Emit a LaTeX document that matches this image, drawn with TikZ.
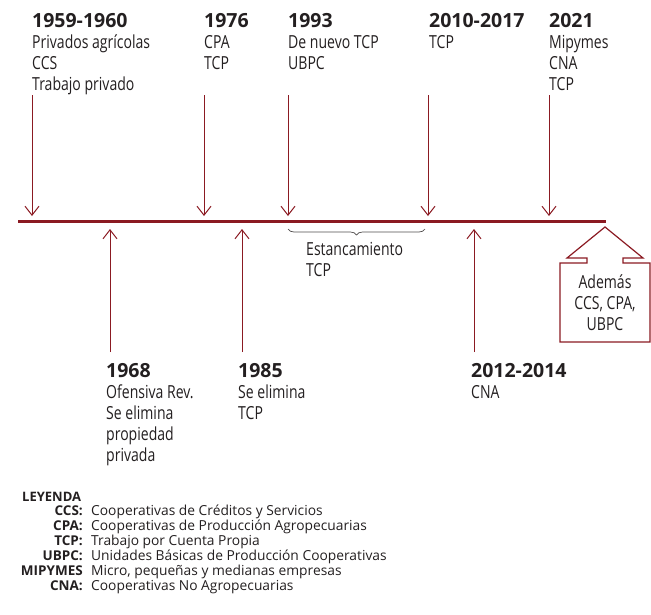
\documentclass[tikz,border=0pt]{standalone}
\usepackage{fontspec}
\setmainfont{Open Sans}[FakeStretch=0.78]
\newfontfamily\yearfont{Open Sans}
\usepackage{tikz}
\usetikzlibrary{arrows.meta,decorations.pathreplacing}
\definecolor{tlred}{RGB}{139,26,34}
\definecolor{ink}{RGB}{35,31,32}
\newcommand{\yr}[1]{{\yearfont\bfseries\fontsize{19.5}{21}\selectfont #1}}
\tikzset{lbl/.style={anchor=north west,inner sep=0,align=left,text=ink,font=\fontsize{18}{21}\selectfont},
  evt/.style={draw=tlred,line width=1pt,->},
  tline/.style={draw=tlred,line width=3pt},
  abbr/.style={anchor=base east,inner sep=0,text=ink,font=\yearfont\bfseries\fontsize{13.5}{15}\selectfont},
  desc/.style={anchor=base west,inner sep=0,text=ink,font=\yearfont\fontsize{13.8}{15}\selectfont}}

\begin{document}
\begin{tikzpicture}[x=1pt,y=-1pt,>={Straight Barb[length=9pt,width=14pt]}]
    \useasboundingbox (0,0) rectangle (651,614);

    % timeline
    \coordinate (ls) at (18,221);
    \coordinate (le) at (606,221);
    \draw[tline] (ls) -- (le);

    % above the line
    \node[lbl] (n59) at (32,13) {\yr{1959-1960}\\Privados agrícolas\\CCS\\Trabajo privado};
    \node[lbl] (n76) at (204,13) {\yr{1976}\\CPA\\TCP};
    \node[lbl] (n93) at (288,13) {\yr{1993}\\De nuevo TCP\\UBPC};
    \node[lbl] (n10) at (429,13) {\yr{2010-2017}\\TCP};
    \node[lbl] (n21) at (549,13) {\yr{2021}\\Mipymes\\CNA\\TCP};

    \coordinate (a59) at (32,95);   \coordinate (b59) at (32,216);
    \coordinate (a76) at (204,95);  \coordinate (b76) at (204,216);
    \coordinate (a93) at (288,95);  \coordinate (b93) at (288,216);
    \coordinate (a10) at (428,95);  \coordinate (b10) at (428,216);
    \coordinate (a21) at (549,95);  \coordinate (b21) at (549,216);
    \draw[evt] (a59) -- (b59);
    \draw[evt] (a76) -- (b76);
    \draw[evt] (a93) -- (b93);
    \draw[evt] (a10) -- (b10);
    \draw[evt] (a21) -- (b21);

    % below the line
    \node[lbl] (n68) at (106,363) {\yr{1968}\\Ofensiva Rev.\\Se elimina\\propiedad\\privada};
    \node[lbl] (n85) at (238,363) {\yr{1985}\\Se elimina\\TCP};
    \node[lbl] (n12) at (471,363) {\yr{2012-2014}\\CNA};

    \coordinate (a68) at (110,352); \coordinate (b68) at (110,229);
    \coordinate (a85) at (242,352); \coordinate (b85) at (242,229);
    \coordinate (a12) at (474,352); \coordinate (b12) at (474,229);
    \draw[evt] (a68) -- (b68);
    \draw[evt] (a85) -- (b85);
    \draw[evt] (a12) -- (b12);

    % stagnation brace
    \coordinate (br1) at (288,229);
    \coordinate (br2) at (425,229);
    \draw[ink!80,line width=0.7pt,decorate,decoration={brace,mirror,amplitude=6pt}] (br1) -- (br2);
    \node[lbl] (stag) at (306,242) {Estancamiento\\TCP};

    % callout
    \draw[tlred,line width=1.2pt] (560,263) -- (587,263) -- (587,258) -- (567,258) -- (605,227)
        -- (643,258) -- (623,258) -- (623,263) -- (650,263) -- (650,342) -- (560,342) -- cycle;
    \node[lbl,anchor=north,align=center] (extra) at (605,275) {Además\\CCS, CPA,\\UBPC};

    % legend
    \node[anchor=north west,inner sep=0,text=ink,font=\yearfont\bfseries\fontsize{13}{15}\selectfont] (ley) at (22,492) {LEYENDA};
    \node[abbr] (k1) at (83,515) {CCS:};
    \node[desc] (d1) at (91,515) {Cooperativas de Créditos y Servicios};
    \node[abbr] (k2) at (83,530) {CPA:};
    \node[desc] (d2) at (91,530) {Cooperativas de Producción Agropecuarias};
    \node[abbr] (k3) at (83,545) {TCP:};
    \node[desc] (d3) at (91,545) {Trabajo por Cuenta Propia};
    \node[abbr] (k4) at (83,560) {UBPC:};
    \node[desc] (d4) at (91,560) {Unidades Básicas de Producción Cooperativas};
    \node[abbr] (k5) at (83,575) {MIPYMES};
    \node[desc] (d5) at (91,575) {Micro, pequeñas y medianas empresas};
    \node[abbr] (k6) at (83,590) {CNA:};
    \node[desc] (d6) at (91,590) {Cooperativas No Agropecuarias};
\end{tikzpicture}
\end{document}
